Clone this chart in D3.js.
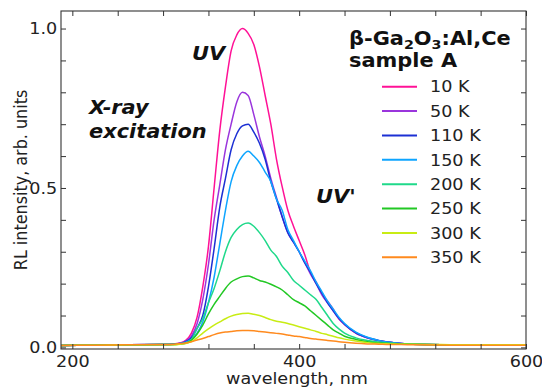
<!DOCTYPE html>
<html>
<head>
<meta charset="utf-8">
<script src="https://cdn.jsdelivr.net/npm/d3@7"></script>
<style>
  html, body { margin: 0; padding: 0; background: #fff; }
  svg { display: block; font-family: "DejaVu Sans", sans-serif; }
</style>
</head>
<body>
<svg id="chart" width="542" height="390"></svg>
<script>
// Wavelength grid (nm) shared by all spectra
const wavelength = [190, 220, 250, 280, 290, 295, 300, 305, 310, 315, 320, 325, 330, 335, 340, 345,
  350, 355, 360, 365, 370, 375, 380, 385, 390, 395, 400, 405, 410, 415, 420, 425, 430, 435, 440,
  450, 460, 470, 480, 490, 500, 550, 600];

// Normalised RL intensity at each temperature
const rl10K = [0.006, 0.007, 0.008, 0.009, 0.011, 0.014, 0.022, 0.045, 0.095, 0.19, 0.316, 0.50, 0.68, 0.817, 0.93, 0.98,
  1.0, 0.985, 0.95, 0.88, 0.79, 0.70, 0.59, 0.504, 0.43, 0.38, 0.335, 0.29, 0.235, 0.205, 0.17, 0.145, 0.12, 0.09, 0.072,
  0.045, 0.03, 0.021, 0.016, 0.012, 0.010, 0.008, 0.008];
const rl50K = [0.006, 0.007, 0.008, 0.009, 0.011, 0.013, 0.02, 0.035, 0.075, 0.15, 0.26, 0.40, 0.51, 0.62, 0.70, 0.77,
  0.80, 0.79, 0.73, 0.66, 0.60, 0.53, 0.47, 0.41, 0.36, 0.33, 0.30, 0.265, 0.23, 0.20, 0.165, 0.14, 0.115, 0.09, 0.072,
  0.045, 0.03, 0.021, 0.016, 0.012, 0.010, 0.008, 0.008];
const rl110K = [0.006, 0.007, 0.008, 0.009, 0.010, 0.012, 0.018, 0.03, 0.06, 0.10, 0.19, 0.31, 0.44, 0.53, 0.62, 0.67,
  0.695, 0.70, 0.675, 0.64, 0.59, 0.52, 0.465, 0.41, 0.36, 0.33, 0.30, 0.265, 0.235, 0.20, 0.17, 0.14, 0.115, 0.092, 0.073,
  0.046, 0.031, 0.022, 0.016, 0.012, 0.010, 0.008, 0.008];
const rl150K = [0.006, 0.007, 0.008, 0.009, 0.010, 0.012, 0.016, 0.025, 0.045, 0.08, 0.14, 0.22, 0.325, 0.43, 0.52, 0.57,
  0.60, 0.615, 0.60, 0.58, 0.55, 0.52, 0.465, 0.43, 0.37, 0.335, 0.30, 0.27, 0.24, 0.205, 0.175, 0.145, 0.12, 0.095, 0.075,
  0.048, 0.032, 0.022, 0.016, 0.012, 0.010, 0.008, 0.008];
const rl200K = [0.006, 0.007, 0.008, 0.009, 0.009, 0.011, 0.014, 0.025, 0.06, 0.09, 0.14, 0.185, 0.24, 0.30, 0.345, 0.37,
  0.385, 0.39, 0.38, 0.36, 0.335, 0.305, 0.285, 0.255, 0.235, 0.21, 0.195, 0.18, 0.165, 0.15, 0.125, 0.10, 0.075, 0.058, 0.045,
  0.03, 0.022, 0.017, 0.013, 0.011, 0.010, 0.008, 0.008];
const rl250K = [0.006, 0.007, 0.008, 0.009, 0.009, 0.011, 0.013, 0.022, 0.042, 0.07, 0.105, 0.135, 0.16, 0.185, 0.205, 0.215,
  0.222, 0.224, 0.218, 0.21, 0.205, 0.198, 0.19, 0.18, 0.165, 0.15, 0.14, 0.13, 0.115, 0.10, 0.085, 0.07, 0.055, 0.045, 0.035,
  0.025, 0.018, 0.014, 0.012, 0.011, 0.010, 0.008, 0.008];
const rl300K = [0.006, 0.007, 0.008, 0.008, 0.008, 0.010, 0.012, 0.018, 0.03, 0.045, 0.058, 0.07, 0.08, 0.09, 0.098, 0.103,
  0.106, 0.107, 0.104, 0.10, 0.094, 0.087, 0.082, 0.079, 0.075, 0.07, 0.065, 0.06, 0.055, 0.05, 0.044, 0.04, 0.035, 0.03, 0.026,
  0.02, 0.015, 0.012, 0.011, 0.010, 0.010, 0.008, 0.008];
const rl350K = [0.006, 0.007, 0.008, 0.009, 0.010, 0.012, 0.014, 0.018, 0.023, 0.028, 0.034, 0.04, 0.045, 0.048, 0.05, 0.052,
  0.053, 0.053, 0.052, 0.05, 0.048, 0.046, 0.044, 0.042, 0.039, 0.036, 0.034, 0.031, 0.028, 0.026, 0.024, 0.022, 0.02, 0.018, 0.016,
  0.013, 0.011, 0.010, 0.009, 0.009, 0.008, 0.007, 0.007];

const temperatures = ["10 K", "50 K", "110 K", "150 K", "200 K", "250 K", "300 K", "350 K"];
const seriesColors = ["#ff1196", "#9a35dc", "#1c30d4", "#0ea5ff", "#1fd98a", "#22c824", "#c8ec14", "#ff8a1e"];

const xTickMajor = [200, 400, 600];
const xTickMinor = [240, 280, 320, 360, 440, 480, 520, 560];
const yTickMajor = [0.0, 0.5, 1.0];
const yTickMinor = [0.1, 0.2, 0.3, 0.4, 0.6, 0.7, 0.8, 0.9];

const series = [rl10K, rl50K, rl110K, rl150K, rl200K, rl250K, rl300K, rl350K].map((vals, i) => ({
  label: temperatures[i],
  color: seriesColors[i],
  points: wavelength.map((w, j) => [w, vals[j]])
}));

const svg = d3.select("#chart");
const plotLeft = 61, plotRight = 526, plotTop = 11, plotBottom = 349;
const textWiden = 1.1; // glyphs are set slightly wide

const x = d3.scaleLinear().domain([190, 600]).range([plotLeft, plotRight]);
const y = d3.scaleLinear().domain([-0.005, 1.055]).range([plotBottom, plotTop]);

// Place a text at (px, py) with the wide glyph style
function placeText(sel, px, py) {
  return sel.attr("transform", `translate(${px},${py}) scale(${textWiden},1)`);
}

// Clip the spectra to the plotting frame
svg.append("defs").append("clipPath").attr("id", "plotArea")
  .append("rect").attr("x", plotLeft).attr("y", plotTop)
  .attr("width", plotRight - plotLeft).attr("height", plotBottom - plotTop);

const line = d3.line()
  .x(d => x(d[0]))
  .y(d => y(d[1]))
  .curve(d3.curveMonotoneX);

svg.append("g").attr("clip-path", "url(#plotArea)")
  .selectAll("path").data(series).join("path")
  .attr("d", d => line(d.points))
  .attr("fill", "none")
  .attr("stroke", d => d.color)
  .attr("stroke-width", 1.5)
  .attr("stroke-linejoin", "round");

// Axes with inward ticks on all four sides
const tickLen = 5;
const fmtY = d3.format(".1f");
function styleAxis(g) {
  g.select(".domain").remove();
  g.selectAll(".tick line").attr("stroke", "#333").attr("stroke-width", 1);
  g.selectAll(".tick text").attr("fill", "#222").attr("font-size", 16)
    .attr("font-family", "DejaVu Sans").attr("transform", `scale(${textWiden},1)`);
}

svg.append("g").attr("transform", `translate(0,${plotBottom})`)
  .call(d3.axisBottom(x).tickValues(xTickMajor).tickSize(-tickLen).tickPadding(7).tickFormat(d3.format("d")))
  .call(styleAxis);
svg.append("g").attr("transform", `translate(0,${plotBottom})`)
  .call(d3.axisBottom(x).tickValues(xTickMinor).tickSize(-tickLen).tickFormat(""))
  .call(styleAxis);
svg.append("g").attr("transform", `translate(0,${plotTop})`)
  .call(d3.axisTop(x).tickValues(xTickMajor.concat(xTickMinor)).tickSize(-tickLen).tickFormat(""))
  .call(styleAxis);
svg.append("g").attr("transform", `translate(${plotLeft},0)`)
  .call(d3.axisLeft(y).tickValues(yTickMajor).tickSize(-tickLen).tickPadding(3.5).tickFormat(fmtY))
  .call(styleAxis);
svg.append("g").attr("transform", `translate(${plotLeft},0)`)
  .call(d3.axisLeft(y).tickValues(yTickMinor).tickSize(-tickLen).tickFormat(""))
  .call(styleAxis);
svg.append("g").attr("transform", `translate(${plotRight},0)`)
  .call(d3.axisRight(y).tickValues(yTickMajor.concat(yTickMinor)).tickSize(-tickLen).tickFormat(""))
  .call(styleAxis);

// Frame
svg.append("rect")
  .attr("x", plotLeft).attr("y", plotTop)
  .attr("width", plotRight - plotLeft).attr("height", plotBottom - plotTop)
  .attr("fill", "none").attr("stroke", "#333").attr("stroke-width", 1.1);

// Axis titles
placeText(svg.append("text"), 297, 384)
  .attr("text-anchor", "middle").attr("font-size", 16).attr("fill", "#222")
  .text("wavelength, nm");
svg.append("text")
  .attr("transform", `translate(27,${(plotTop + plotBottom) / 2}) scale(${textWiden},1) rotate(-90)`)
  .attr("text-anchor", "middle").attr("font-size", 16).attr("fill", "#222")
  .text("RL intensity, arb. units");

// Annotations
const note = svg.append("g").attr("font-weight", "bold").attr("font-style", "italic")
  .attr("font-size", 19).attr("fill", "#111");
placeText(note.append("text"), 192, 60).text("UV");
placeText(note.append("text"), 89, 114).text("X-ray");
placeText(note.append("text"), 89, 138).text("excitation");
placeText(note.append("text"), 316, 203).text("UV'");

// Legend
const legend = svg.append("g");
const title = placeText(legend.append("text"), 349, 45)
  .attr("font-size", 19).attr("font-weight", "bold").attr("fill", "#111");
title.append("tspan").text("β-Ga");
title.append("tspan").attr("font-size", 13).attr("dy", 4).text("2");
title.append("tspan").attr("dy", -4).text("O");
title.append("tspan").attr("font-size", 13).attr("dy", 4).text("3");
title.append("tspan").attr("dy", -4).text(":Al,Ce");
placeText(legend.append("text"), 349, 67)
  .attr("font-size", 19).attr("font-weight", "bold").attr("fill", "#111")
  .text("sample A");

const rowY = d3.scalePoint().domain(temperatures).range([86.7, 257.3]);
const rows = legend.selectAll("g.row").data(series).join("g").attr("class", "row")
  .attr("transform", d => `translate(0,${rowY(d.label)})`);
rows.append("line").attr("x1", 382).attr("x2", 417)
  .attr("stroke", d => d.color).attr("stroke-width", 2);
rows.append("text").attr("transform", `translate(430,0) scale(${textWiden},1)`).attr("dy", "0.36em")
  .attr("font-size", 16).attr("fill", "#222").text(d => d.label);
</script>
</body>
</html>
